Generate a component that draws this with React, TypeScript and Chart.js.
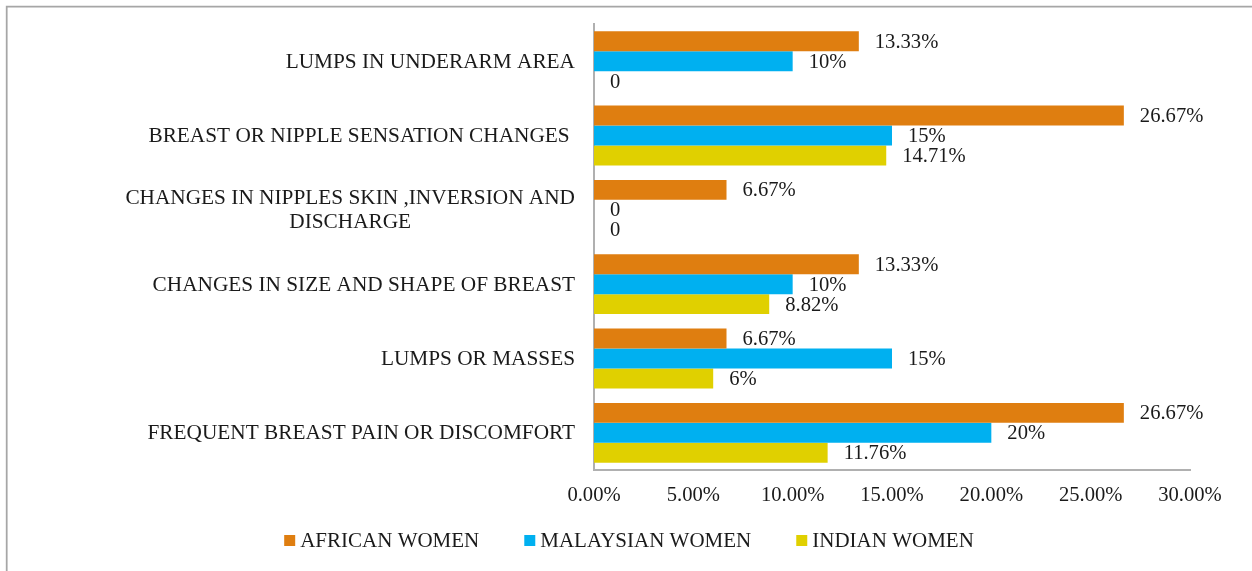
import React, { useEffect, useRef } from "react";
import { Chart, registerables } from "chart.js";

Chart.register(...registerables);

const categories: string[][] = [
  ["LUMPS IN UNDERARM AREA"],
  ["BREAST OR NIPPLE SENSATION CHANGES "],
  ["CHANGES IN NIPPLES SKIN ,INVERSION AND", "DISCHARGE"],
  ["CHANGES IN SIZE AND SHAPE OF BREAST"],
  ["LUMPS OR MASSES"],
  ["FREQUENT BREAST PAIN OR DISCOMFORT"],
];
const seriesNames = ["AFRICAN WOMEN", "MALAYSIAN WOMEN", "INDIAN WOMEN"];
const seriesColors = ["#DF7E10", "#00B0F0", "#E0D000"];
const african = [13.33, 26.67, 6.67, 13.33, 6.67, 26.67];
const malaysian = [10, 15, 0, 10, 15, 20];
const indian = [0, 14.71, 0, 8.82, 6, 11.76];
const africanLabels = ["13.33%", "26.67%", "6.67%", "13.33%", "6.67%", "26.67%"];
const malaysianLabels = ["10%", "15%", "0", "10%", "15%", "20%"];
const indianLabels = ["0", "14.71%", "0", "8.82%", "6%", "11.76%"];
const xMin = 0;
const xMax = 30;
const xStep = 5;

const FONT = '"Liberation Serif", "Times New Roman", serif';
const TEXT = "#1a1a1a";
const AXIS = "#b0b0b0";

const valueLabelSets = [africanLabels, malaysianLabels, indianLabels];

const customDraw = {
  id: "customDraw",
  beforeDraw(chart: any) {
    const ctx = chart.ctx;
    ctx.save();
    ctx.strokeStyle = "#a6a6a6";
    ctx.lineWidth = 1.75;
    ctx.beginPath();
    ctx.moveTo(6.7, chart.height);
    ctx.lineTo(6.7, 6.5);
    ctx.lineTo(chart.width, 6.5);
    ctx.stroke();
    ctx.restore();
  },
  afterDatasetsDraw(chart: any) {
    const ctx = chart.ctx;
    ctx.save();
    ctx.font = `20.6px ${FONT}`;
    ctx.fillStyle = TEXT;
    ctx.textAlign = "left";
    ctx.textBaseline = "middle";
    chart.data.datasets.forEach((_ds: any, i: number) => {
      const meta = chart.getDatasetMeta(i);
      meta.data.forEach((bar: any, j: number) => {
        ctx.fillText(valueLabelSets[i][j], bar.x + 16, bar.y + 1);
      });
    });
    ctx.restore();
  },
  afterDraw(chart: any) {
    const ctx = chart.ctx;
    const yScale = chart.scales.y;
    ctx.save();
    // category labels
    ctx.font = `21.3px ${FONT}`;
    ctx.fillStyle = TEXT;
    ctx.textBaseline = "middle";
    const rightX = 575;
    const lh = 24;
    categories.forEach((lines, i) => {
      const cy = yScale.getPixelForValue(i) + 1;
      const widths = lines.map((l) => ctx.measureText(l).width);
      const blockW = Math.max(...widths);
      const centerX = rightX - blockW / 2;
      lines.forEach((l, k) => {
        const y = cy + (k - (lines.length - 1) / 2) * lh;
        ctx.textAlign = "center";
        ctx.fillText(l, centerX, y);
      });
    });
    // legend
    ctx.font = `21px ${FONT}`;
    const box = 11;
    const textGap = 16;
    const itemGap = 45;
    const widths = seriesNames.map((n) => ctx.measureText(n).width);
    const total =
      widths.reduce((a, w) => a + textGap + w, 0) + itemGap * (seriesNames.length - 1);
    let x = 629 - total / 2;
    const ly = 540.5;
    seriesNames.forEach((n, i) => {
      ctx.fillStyle = seriesColors[i];
      ctx.fillRect(x, ly - box / 2, box, box);
      ctx.fillStyle = TEXT;
      ctx.textAlign = "left";
      ctx.fillText(n, x + textGap, ly + 1);
      x += textGap + widths[i] + itemGap;
    });
    ctx.restore();
  },
};

export default function App() {
  const ref = useRef<HTMLCanvasElement | null>(null);
  useEffect(() => {
    if (!ref.current) return;
    const chart = new Chart(ref.current, {
      type: "bar",
      data: {
        labels: categories.map((c) => c.join(" ")),
        datasets: [
          { label: seriesNames[0], data: african, backgroundColor: seriesColors[0] },
          { label: seriesNames[1], data: malaysian, backgroundColor: seriesColors[1] },
          { label: seriesNames[2], data: indian, backgroundColor: seriesColors[2] },
        ],
      },
      options: {
        indexAxis: "y",
        responsive: false,
        animation: false,
        devicePixelRatio: 1,
        layout: { padding: { left: 594, right: 62, top: 24, bottom: 63 } },
        datasets: { bar: { categoryPercentage: 0.806, barPercentage: 1, borderWidth: 0 } },
        plugins: { legend: { display: false }, tooltip: { enabled: false } },
        scales: {
          x: {
            min: xMin,
            max: xMax,
            grid: { display: false, drawTicks: false },
            border: { display: true, color: AXIS, width: 2 },
            ticks: {
              stepSize: xStep,
              padding: 13,
              color: TEXT,
              font: { family: FONT, size: 20.6 },
              callback: (v: any) => Number(v).toFixed(2) + "%",
            },
            afterFit: (s: any) => {
              s.height = 38;
            },
          },
          y: {
            grid: { display: false, drawTicks: false },
            border: { display: true, color: AXIS, width: 2 },
            ticks: { display: false },
            afterFit: (s: any) => {
              s.width = 0;
            },
          },
        },
      },
      plugins: [customDraw],
    } as any);
    return () => chart.destroy();
  }, []);
  return (
    <div style={{ position: "absolute", left: 0, top: 0, width: 1252, height: 571, background: "#fff" }}>
      <canvas ref={ref} width={1252} height={571} style={{ display: "block" }} />
    </div>
  );
}
